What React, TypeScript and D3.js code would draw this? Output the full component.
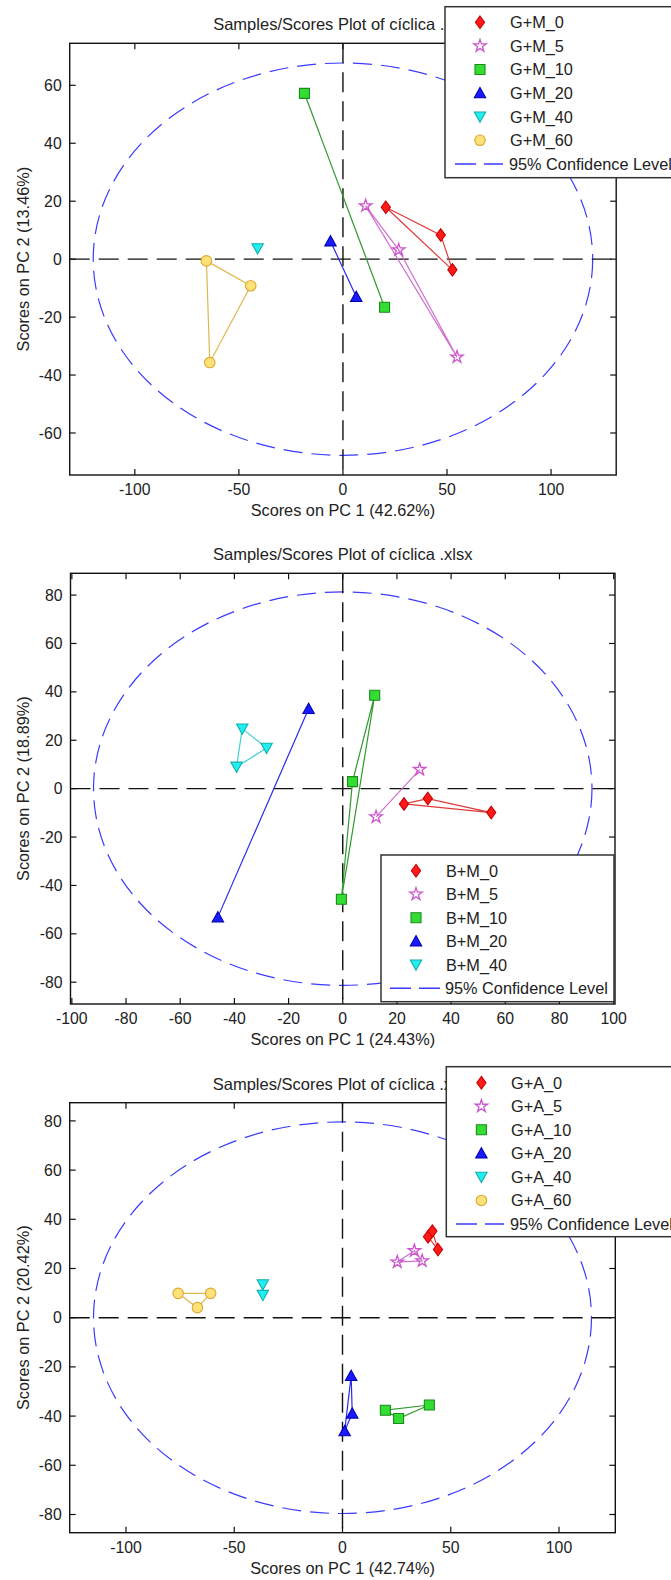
import React from "react";
import * as d3 from "d3";

// ---------- DATA ----------
const titleText = "Samples/Scores Plot of cíclica .xlsx";

// Panel 1 (G+M)
const p1Names = ["G+M_0", "G+M_5", "G+M_10", "G+M_20", "G+M_40", "G+M_60"];
const gm0 = [[20.6, 17.9], [47, 8.3], [52.6, -3.7]];
const gm5 = [[10.9, 18.4], [26.8, 3.2], [54.8, -33.8]];
const gm10 = [[-18.5, 57.2], [20, -16.6]];
const gm20 = [[-6, 6.2], [6.4, -13]];
const gm40 = [[-41, 3.7]];
const gm60 = [[-65.6, -0.6], [-44.3, -9.2], [-64, -35.7]];
const p1XTicks = [-100, -50, 0, 50, 100];
const p1YTicks = [-60, -40, -20, 0, 20, 40, 60];
const p1Ellipse = [120, 67.7];

// Panel 2 (B+M)
const p2Names = ["B+M_0", "B+M_5", "B+M_10", "B+M_20", "B+M_40"];
const bm0 = [[22.6, -6.3], [31.4, -4.1], [54.8, -9.9]];
const bm5 = [[28.4, 7.9], [12.3, -11.7]];
const bm10 = [[11.8, 38.6], [3.6, 2.9], [-0.5, -45.7]];
const bm20 = [[-12.6, 33], [-46.1, -53.1]];
const bm40 = [[-37.1, 24.8], [-28.1, 16.8], [-39.2, 9.0]];
const p2XTicks = [-100, -80, -60, -40, -20, 0, 20, 40, 60, 80, 100];
const p2YTicks = [-80, -60, -40, -20, 0, 20, 40, 60, 80];
const p2Ellipse = [92, 81.3];

// Panel 3 (G+A)
const p3Names = ["G+A_0", "G+A_5", "G+A_10", "G+A_20", "G+A_40", "G+A_60"];
const ga0 = [[39.5, 32.9], [41.5, 35.2], [44.1, 27.7]];
const ga5 = [[25.3, 22.6], [33.2, 27.2], [36.8, 23.1]];
const ga10 = [[19.8, -37.6], [25.9, -41], [40.1, -35.5]];
const ga20 = [[4, -23.6], [4.5, -38.9], [1, -46.1]];
const ga40 = [[-36.8, 13.5], [-36.8, 9.2]];
const ga60 = [[-75.9, 9.9], [-60.9, 9.9], [-67, 4.1]];
const p3XTicks = [-100, -50, 0, 50, 100];
const p3YTicks = [-80, -60, -40, -20, 0, 20, 40, 60, 80];
const p3Ellipse = [115, 79.6];

const pcLabels = [
  ["Scores on PC 1 (42.62%)", "Scores on PC 2 (13.46%)"],
  ["Scores on PC 1 (24.43%)", "Scores on PC 2 (18.89%)"],
  ["Scores on PC 1 (42.74%)", "Scores on PC 2 (20.42%)"],
];

// ---------- STYLES ----------
type Style = { shape: string; fill: string; stroke: string; line: string };
const styles: Style[] = [
  { shape: "diamond", fill: "#ff1a1a", stroke: "#c80000", line: "#e03a3a" },
  { shape: "star", fill: "none", stroke: "#cc55cc", line: "#d070d0" },
  { shape: "square", fill: "#33dd33", stroke: "#1a8c1a", line: "#2e9a2e" },
  { shape: "triUp", fill: "#1a1aff", stroke: "#0000b0", line: "#2a2aee" },
  { shape: "triDown", fill: "#22eeee", stroke: "#10b0b0", line: "#40d0d8" },
  { shape: "circle", fill: "#ffe17a", stroke: "#d9a830", line: "#e0b84a" },
];

const FONT = "'Liberation Sans', Arial, sans-serif";
const TXT = "#222";
const ELL = "#3a3aff";

function markerPath(shape: string): string {
  switch (shape) {
    case "diamond":
      return "M0,-6.3L4.6,0L0,6.3L-4.6,0Z";
    case "square":
      return "M-5,-5H5V5H-5Z";
    case "triUp":
      return "M0,-5.6L5.7,4.7L-5.7,4.7Z";
    case "triDown":
      return "M0,5.6L5.7,-4.7L-5.7,-4.7Z";
    case "star":
      return d3.symbol().type(d3.symbolStar).size(48)() as string;
    default:
      return d3.symbol().type(d3.symbolCircle).size(86)() as string;
  }
}

function Marker({ x, y, st }: { x: number; y: number; st: Style }) {
  return (
    <path
      d={markerPath(st.shape)}
      transform={`translate(${x},${y})`}
      fill={st.fill}
      stroke={st.stroke}
      strokeWidth={st.shape === "star" ? 1.3 : 1.1}
    />
  );
}

type LegendCfg = {
  x: number; y: number; w: number; h: number;
  row0: number; step: number; mx: number; tx: number; lx0: number; lx1: number;
};

type PanelCfg = {
  x0: number; x1: number; y0: number; y1: number;
  xDom: [number, number]; yDom: [number, number];
  xTicks: number[]; yTicks: number[];
  ellipse: number[];
  names: string[];
  groups: number[][][];
  labels: string[];
  legend: LegendCfg;
};

function Panel({ c }: { c: PanelCfg }) {
  const xs = d3.scaleLinear().domain(c.xDom).range([c.x0, c.x1]);
  const ys = d3.scaleLinear().domain(c.yDom).range([c.y1, c.y0]);
  const line = d3.line<number[]>().x((d) => xs(d[0])).y((d) => ys(d[1]));
  const tl = 6;
  const cx = xs(0), cy = ys(0);
  const L = c.legend;
  return (
    <g fontFamily={FONT} fill={TXT}>
      <text x={(c.x0 + c.x1) / 2} y={c.y0 - 13} textAnchor="middle" fontSize={16.5}>
        {titleText}
      </text>
      <rect x={c.x0} y={c.y0} width={c.x1 - c.x0} height={c.y1 - c.y0} fill="#fff" stroke="none" />
      {/* confidence ellipse */}
      <ellipse
        cx={cx} cy={cy}
        rx={xs(c.ellipse[0]) - cx} ry={cy - ys(c.ellipse[1])}
        fill="none" stroke={ELL} strokeWidth={1.2} strokeDasharray="19 9"
      />
      {/* zero lines */}
      <line x1={c.x0} x2={c.x1} y1={cy} y2={cy} stroke="#111" strokeWidth={1.4} strokeDasharray="20 9" />
      <line x1={cx} x2={cx} y1={c.y0} y2={c.y1} stroke="#111" strokeWidth={1.4} strokeDasharray="20 9" />
      {/* group lines */}
      {c.groups.map((g, i) =>
        g.length > 1 ? (
          <path key={"l" + i}
            d={(line(g) as string) + (g.length > 2 ? "Z" : "")}
            fill="none" stroke={styles[i].line} strokeWidth={1.2} />
        ) : null
      )}
      {/* markers */}
      {c.groups.map((g, i) =>
        g.map((p, j) => <Marker key={"m" + i + "_" + j} x={xs(p[0])} y={ys(p[1])} st={styles[i]} />)
      )}
      {/* box */}
      <rect x={c.x0} y={c.y0} width={c.x1 - c.x0} height={c.y1 - c.y0} fill="none" stroke="#111" strokeWidth={1.4} />
      {/* ticks */}
      {c.xTicks.map((t) => (
        <g key={"xt" + t}>
          <line x1={xs(t)} x2={xs(t)} y1={c.y1} y2={c.y1 - tl} stroke="#111" strokeWidth={1.2} />
          <line x1={xs(t)} x2={xs(t)} y1={c.y0} y2={c.y0 + tl} stroke="#111" strokeWidth={1.2} />
          <text x={xs(t)} y={c.y1 + 20} textAnchor="middle" fontSize={15.8}>{String(t)}</text>
        </g>
      ))}
      {c.yTicks.map((t) => (
        <g key={"yt" + t}>
          <line x1={c.x0} x2={c.x0 + tl} y1={ys(t)} y2={ys(t)} stroke="#111" strokeWidth={1.2} />
          <line x1={c.x1} x2={c.x1 - tl} y1={ys(t)} y2={ys(t)} stroke="#111" strokeWidth={1.2} />
          <text x={c.x0 - 8} y={ys(t) + 5.6} textAnchor="end" fontSize={15.8}>{String(t)}</text>
        </g>
      ))}
      <text x={(c.x0 + c.x1) / 2} y={c.y1 + 41} textAnchor="middle" fontSize={16.3}>{c.labels[0]}</text>
      <text transform={`translate(29,${(c.y0 + c.y1) / 2}) rotate(-90)`} textAnchor="middle" fontSize={16.3}>
        {c.labels[1]}
      </text>
      {/* legend */}
      <rect x={L.x} y={L.y} width={L.w} height={L.h} fill="#fff" stroke="#333" strokeWidth={1.5} />
      {c.names.map((n, i) => {
        const ry = L.row0 + i * L.step;
        return (
          <g key={"lg" + i}>
            <Marker x={L.mx} y={ry} st={styles[i]} />
            <text x={L.tx} y={ry + 5.8} fontSize={16.3}>{n}</text>
          </g>
        );
      })}
      {(() => {
        const ry = L.row0 + c.names.length * L.step;
        return (
          <g>
            <line x1={L.lx0} x2={L.lx1} y1={ry} y2={ry} stroke={ELL} strokeWidth={1.5} strokeDasharray="21 8" />
            <text x={L.tx - 1} y={ry + 5.8} fontSize={16.3}>95% Confidence Level</text>
          </g>
        );
      })()}
    </g>
  );
}

const panels: PanelCfg[] = [
  {
    x0: 69.7, x1: 616.2, y0: 43.3, y1: 475,
    xDom: [-131.3, 131.3], yDom: [-74.5, 74.5],
    xTicks: p1XTicks, yTicks: p1YTicks, ellipse: p1Ellipse,
    names: p1Names, groups: [gm0, gm5, gm10, gm20, gm40, gm60],
    labels: pcLabels[0],
    legend: { x: 445, y: 6.7, w: 270, h: 171, row0: 22.3, step: 23.6, mx: 480, tx: 510, lx0: 455, lx1: 503 },
  },
  {
    x0: 70.5, x1: 615, y0: 573.3, y1: 1004,
    xDom: [-100.5, 100.5], yDom: [-89, 89],
    xTicks: p2XTicks, yTicks: p2YTicks, ellipse: p2Ellipse,
    names: p2Names, groups: [bm0, bm5, bm10, bm20, bm40],
    labels: pcLabels[1],
    legend: { x: 381, y: 855, w: 233, h: 146.7, row0: 870.7, step: 23.5, mx: 416, tx: 446, lx0: 390, lx1: 441 },
  },
  {
    x0: 69.7, x1: 615.3, y0: 1102.7, y1: 1532.7,
    xDom: [-126, 126], yDom: [-87.4, 87.4],
    xTicks: p3XTicks, yTicks: p3YTicks, ellipse: p3Ellipse,
    names: p3Names, groups: [ga0, ga5, ga10, ga20, ga40, ga60],
    labels: pcLabels[2],
    legend: { x: 446.3, y: 1066.7, w: 270, h: 170, row0: 1082.7, step: 23.55, mx: 481.4, tx: 511, lx0: 456, lx1: 504 },
  },
];

export default function App() {
  return (
    <svg
      width={671}
      height={1580}
      viewBox="0 0 671 1580"
      style={{ position: "absolute", left: 0, top: 0, background: "#fff" }}
    >
      <rect width={671} height={1580} fill="#fff" />
      {panels.map((c, i) => (
        <Panel key={i} c={c} />
      ))}
    </svg>
  );
}
